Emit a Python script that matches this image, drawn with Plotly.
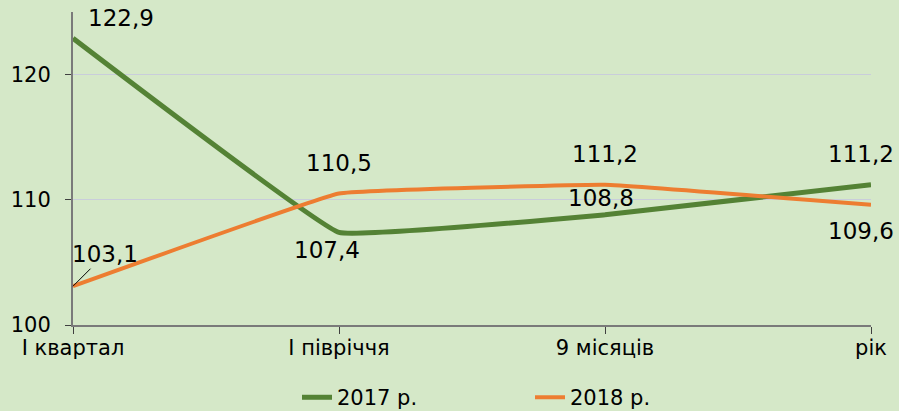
import plotly.graph_objects as go

periods = ['І квартал', 'І півріччя', '9 місяців', 'рік']
values_2017 = [122.9, 107.4, 108.8, 111.2]
values_2018 = [103.1, 110.5, 111.2, 109.6]

green = '#548235'
orange = '#ED7D31'
font = 'DejaVu Sans'

xs = list(range(len(periods)))

fig = go.Figure()
fig.add_trace(go.Scatter(x=xs, y=values_2017, mode='lines', name='2017 р.',
                         line=dict(color=green, width=5, shape='spline', smoothing=0.2)))
fig.add_trace(go.Scatter(x=xs, y=values_2018, mode='lines', name='2018 р.',
                         line=dict(color=orange, width=4, shape='spline', smoothing=0.2)))


def fmt(v):
    return f'{v:.1f}'.replace('.', ',')


# data label offsets (pixels) per point
shift_2017 = [(48, 20), (-12, -18), (-4, 17), (-10, 31)]
shift_2018 = [(None, None), (0, 31), (0, 31), (-10, -26)]

lab_font = dict(size=23, color='black', family=font)
for i, v in enumerate(values_2017):
    dx, dy = shift_2017[i]
    fig.add_annotation(x=xs[i], y=v, text=fmt(v), showarrow=False,
                       xshift=dx, yshift=dy, font=lab_font)
for i, v in enumerate(values_2018):
    dx, dy = shift_2018[i]
    if dx is None:
        fig.add_annotation(x=xs[i], y=v, text=fmt(v), showarrow=True, arrowhead=0,
                           arrowwidth=1, arrowcolor='black', ax=32, ay=-32,
                           font=lab_font)
        continue
    fig.add_annotation(x=xs[i], y=v, text=fmt(v), showarrow=False,
                       xshift=dx, yshift=dy, font=lab_font)

fig.update_layout(
    width=899, height=411,
    paper_bgcolor='#d5e8c8', plot_bgcolor='#d5e8c8',
    margin=dict(l=73, r=28, t=12, b=86, autoexpand=False),
    font=dict(family=font, size=21, color='black'),
    showlegend=True,
    legend=dict(orientation='h', x=(297 - 73) / 798, xanchor='left', y=-0.232, yanchor='middle',
                font=dict(size=21), entrywidth=188, entrywidthmode='pixels',
                bgcolor='rgba(0,0,0,0)'),
    xaxis=dict(range=[0, 3], tickvals=xs, ticktext=periods, showgrid=False,
               showline=True, linecolor='#7a7a7a', linewidth=2, ticks='outside',
               ticklen=7, tickcolor='#404040', zeroline=False, automargin=False,
               ticklabelstandoff=-4),
    yaxis=dict(range=[100, 125], tickvals=[100, 110, 120], showgrid=True,
               gridcolor='#c9cddb', gridwidth=1, showline=True, linecolor='#7a7a7a',
               linewidth=2, ticks='outside', ticklen=6, tickcolor='#404040',
               zeroline=False, automargin=False, ticklabelstandoff=10),
)

fig.write_html('out.html', config={'displayModeBar': False},
               post_script="document.body.style.margin='0';")
